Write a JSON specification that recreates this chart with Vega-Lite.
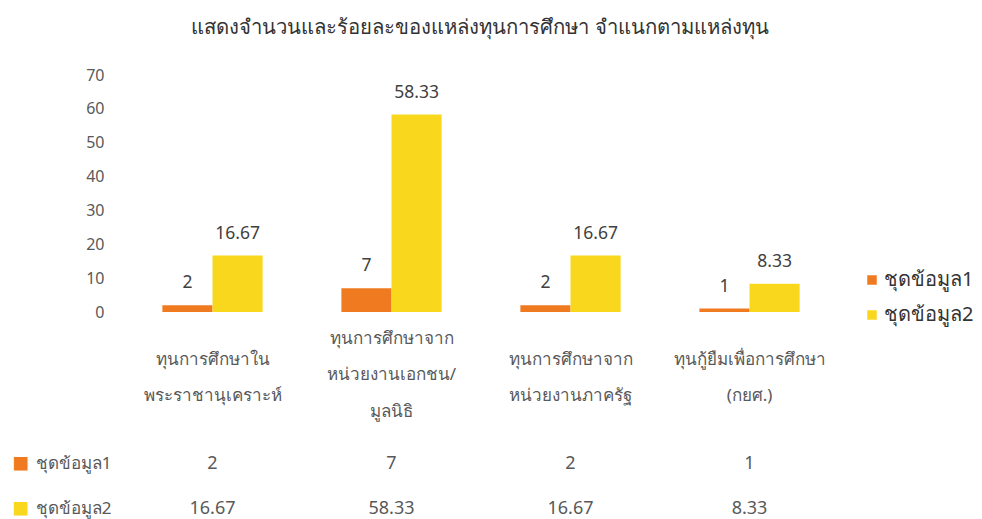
{
  "$schema": "https://vega.github.io/schema/vega-lite/v6.json",
  "padding": {"left": 12, "top": 17, "right": 5, "bottom": 0},
  "background": "white",
  "spacing": 22,
  "title": {"text": "แสดงจำนวนและร้อยละของแหล่งทุนการศึกษา จำแนกตามแหล่งทุน", "fontSize": 20.3, "fontWeight": "normal", "color": "#333333", "anchor": "middle", "offset": 29, "dx": -13},
  "config": {"font": "Noto Sans", "view": {"stroke": null}},
  "data": {"values": [
    {"cat": "ทุนการศึกษาใน|พระราชานุเคราะห์", "series": "ชุดข้อมูล1", "value": 2},
    {"cat": "ทุนการศึกษาใน|พระราชานุเคราะห์", "series": "ชุดข้อมูล2", "value": 16.67},
    {"cat": "ทุนการศึกษาจาก|หน่วยงานเอกชน/|มูลนิธิ", "series": "ชุดข้อมูล1", "value": 7},
    {"cat": "ทุนการศึกษาจาก|หน่วยงานเอกชน/|มูลนิธิ", "series": "ชุดข้อมูล2", "value": 58.33},
    {"cat": "ทุนการศึกษาจาก|หน่วยงานภาครัฐ", "series": "ชุดข้อมูล1", "value": 2},
    {"cat": "ทุนการศึกษาจาก|หน่วยงานภาครัฐ", "series": "ชุดข้อมูล2", "value": 16.67},
    {"cat": "ทุนกู้ยืมเพื่อการศึกษา|(กยศ.)", "series": "ชุดข้อมูล1", "value": 1},
    {"cat": "ทุนกู้ยืมเพื่อการศึกษา|(กยศ.)", "series": "ชุดข้อมูล2", "value": 8.33}
  ]},
  "resolve": {"scale": {"x": "shared", "y": "independent"}},
  "vconcat": [
    {
      "width": 716,
      "height": 237,
      "encoding": {
        "x": {"field": "cat", "type": "nominal", "sort": null,
          "scale": {"paddingInner": 0.44, "paddingOuter": 0.22},
          "axis": {"title": null, "labelAngle": 0, "domain": false, "ticks": false, "labelExpr": "split(datum.label, '|')", "labelBaseline": "middle",
            "labelPadding": {"condition": {"test": "indexof(datum.value, 'มูลนิธิ') >= 0", "value": 26}, "value": 47},
            "labelLineHeight": 36.5, "labelFontSize": 17, "labelColor": "#595959", "labelLimit": 300}},
        "xOffset": {"field": "series", "type": "nominal", "scale": {"paddingInner": 0, "paddingOuter": 0}},
        "y": {"field": "value", "type": "quantitative", "scale": {"domain": [0, 70]},
          "axis": {"title": null, "values": [0, 10, 20, 30, 40, 50, 60, 70], "grid": false, "domain": false, "ticks": false, "labelPadding": 19, "labelFontSize": 16, "labelColor": "#595959"}}
      },
      "layer": [
        {"mark": {"type": "bar"},
          "encoding": {"color": {"field": "series", "type": "nominal",
            "scale": {"domain": ["ชุดข้อมูล1", "ชุดข้อมูล2"], "range": ["#F07A20", "#F9D71C"]},
            "legend": {"title": null, "orient": "none", "legendX": 739, "legendY": 195, "symbolType": "square", "symbolSize": 90, "labelFontSize": 20, "labelOffset": 2, "labelColor": "#333333", "rowPadding": 15, "symbolStrokeWidth": 0}}}},
        {"mark": {"type": "text", "baseline": "bottom", "dy": -13, "fontSize": 17.5, "color": "#404040"},
          "encoding": {"text": {"field": "value", "type": "quantitative"}}}
      ]
    },
    {
      "width": 716,
      "height": 90,
      "layer": [
        {"mark": {"type": "text", "fontSize": 18, "color": "#595959"},
          "encoding": {
            "x": {"field": "cat", "type": "nominal", "sort": null, "axis": null},
            "y": {"field": "series", "type": "nominal", "sort": ["ชุดข้อมูล1", "ชุดข้อมูล2"],
              "axis": {"title": null, "domain": false, "ticks": false, "labelPadding": 12, "labelFontSize": 17, "labelColor": "#595959"}},
            "text": {"field": "value", "type": "quantitative"}
          }},
        {"mark": {"type": "text", "opacity": 0},
          "encoding": {
            "x": {"field": "cat", "type": "nominal", "sort": null, "axis": null},
            "y": {"field": "series", "type": "nominal", "sort": ["ชุดข้อมูล1", "ชุดข้อมูล2"],
              "axis": {"orient": "left", "title": null, "domain": false, "ticks": false, "offset": 90, "labelPadding": 4, "labelFontSize": 28, "labelExpr": "'■'",
                "labelColor": {"condition": {"test": "datum.value === 'ชุดข้อมูล1'", "value": "#F07A20"}, "value": "#F9D71C"}}},
            "text": {"field": "value", "type": "quantitative"}
          }}
      ],
      "resolve": {"axis": {"y": "independent"}}
    }
  ]
}
